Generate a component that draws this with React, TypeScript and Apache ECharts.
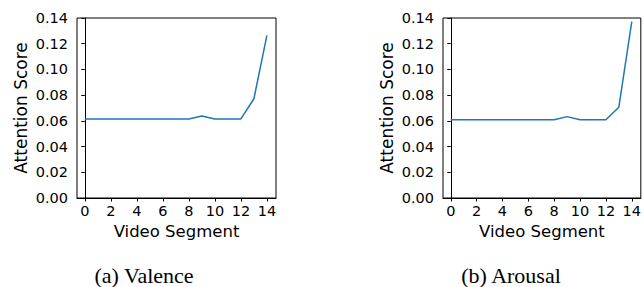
import React, { useEffect, useRef } from "react";
import * as echarts from "echarts";

const segments = [0, 1, 2, 3, 4, 5, 6, 7, 8, 9, 10, 11, 12, 13, 14];
const valence = [0.0614, 0.0614, 0.0614, 0.0614, 0.0614, 0.0614, 0.0614, 0.0614, 0.0615, 0.0638, 0.0614, 0.0614, 0.0615, 0.0772, 0.1265];
const arousal = [0.0609, 0.0609, 0.0609, 0.0609, 0.0609, 0.0609, 0.0609, 0.0609, 0.0609, 0.0633, 0.0609, 0.0609, 0.0609, 0.0706, 0.1372];
const xTicks = [0, 2, 4, 6, 8, 10, 12, 14];
const captions = ["(a) Valence", "(b) Arousal"];
const yTitle = "Attention Score";
const xTitle = "Video Segment";

const sans = "DejaVu Sans";

export default function App() {
  const ref = useRef<HTMLDivElement>(null);
  useEffect(() => {
    if (!ref.current) return;
    const chart = echarts.init(ref.current, undefined, { renderer: "svg" });
    const grids = [
      { left: 77, top: 18, width: 199, height: 180 },
      { left: 443, top: 18, width: 200, height: 180 },
    ];
    const mkX = (i: number) => ({
      type: "value",
      gridIndex: i,
      min: -0.6,
      max: 14.7,
      name: xTitle,
      nameLocation: "middle",
      nameGap: 24,
      nameTextStyle: { fontFamily: sans, fontSize: 16.5, color: "#000" },
      splitLine: { show: false },
      axisLine: { show: true, lineStyle: { color: "#000", width: 1 } },
      axisTick: { show: true, length: 3.5, customValues: xTicks, lineStyle: { color: "#000", width: 1 } },
      axisLabel: { customValues: xTicks, fontFamily: sans, fontSize: 14.5, color: "#000", margin: 5 },
    });
    const mkY = (i: number) => ({
      type: "value",
      gridIndex: i,
      min: 0,
      max: 0.14,
      interval: 0.02,
      name: yTitle,
      nameLocation: "middle",
      nameGap: 48,
      nameTextStyle: { fontFamily: sans, fontSize: 17, color: "#000" },
      splitLine: { show: false },
      axisLine: { show: true, lineStyle: { color: "#000", width: 1 } },
      axisTick: { show: true, length: 3.5, lineStyle: { color: "#000", width: 1 } },
      axisLabel: {
        fontFamily: sans,
        fontSize: 14.5,
        color: "#000",
        margin: 9,
        formatter: (v: number) => v.toFixed(2),
      },
    });
    const capStyle = { fontFamily: "Liberation Serif", fontSize: 22, lineHeight: 22, fontWeight: "normal", color: "#000" };
    chart.setOption({
      animation: false,
      backgroundColor: "#fff",
      grid: grids.map((g) => ({ ...g, show: true, borderColor: "#000", borderWidth: 1, backgroundColor: "transparent" })),
      xAxis: [mkX(0), mkX(1)],
      yAxis: [mkY(0), mkY(1)],
      title: [
        { text: captions[0], left: 144, top: 264, padding: 0, textAlign: "center", textStyle: capStyle },
        { text: captions[1], left: 511, top: 264, padding: 0, textAlign: "center", textStyle: capStyle },
      ],
      series: [
        {
          type: "line",
          xAxisIndex: 0,
          yAxisIndex: 0,
          data: segments.map((s, i) => [s, valence[i]]),
          showSymbol: false,
          lineStyle: { color: "#1f77b4", width: 1.5 },
        },
        {
          type: "line",
          xAxisIndex: 1,
          yAxisIndex: 1,
          data: segments.map((s, i) => [s, arousal[i]]),
          showSymbol: false,
          lineStyle: { color: "#1f77b4", width: 1.5 },
        },
      ],
    });
    return () => chart.dispose();
  }, []);
  return (
    <div
      ref={ref}
      style={{ position: "fixed", left: 0, top: 0, width: 644, height: 287, background: "#fff" }}
    />
  );
}
